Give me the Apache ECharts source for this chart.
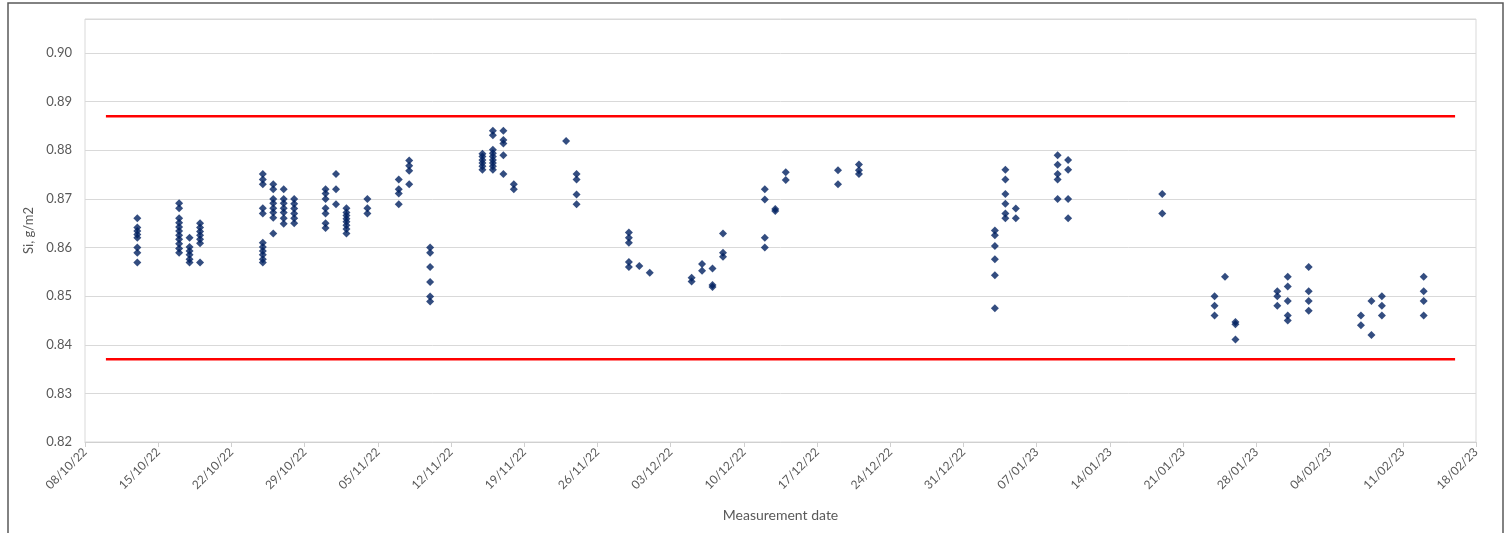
<!DOCTYPE html>
<html>
<head>
<meta charset="utf-8">
<script src="https://cdn.jsdelivr.net/npm/echarts@6/dist/echarts.min.js"></script>
<style>html,body{margin:0;padding:0;background:#fff}#c{width:1511px;height:533px}</style>
</head>
<body>
<div id="c"></div>
<script>
// ---- data ----
const startDate = '2022-10-08';
const endDate = '2023-02-18';
const dates = [
  '2022-10-13','2022-10-17','2022-10-18','2022-10-19','2022-10-25','2022-10-26','2022-10-27','2022-10-28',
  '2022-10-31','2022-11-01','2022-11-02','2022-11-04','2022-11-07','2022-11-08','2022-11-10','2022-11-15',
  '2022-11-16','2022-11-17','2022-11-18','2022-11-23','2022-11-24','2022-11-29','2022-11-30','2022-12-01',
  '2022-12-05','2022-12-06','2022-12-07','2022-12-08','2022-12-12','2022-12-13','2022-12-14','2022-12-19',
  '2022-12-21','2023-01-03','2023-01-04','2023-01-05','2023-01-09','2023-01-10','2023-01-19','2023-01-24',
  '2023-01-25','2023-01-26','2023-01-30','2023-01-31','2023-02-02','2023-02-07','2023-02-08','2023-02-09',
  '2023-02-13'
];
const siValues = [
  [0.866,0.8641,0.8634,0.8627,0.862,0.860,0.8589,0.8569],
  [0.8691,0.8681,0.866,0.8651,0.8642,0.8634,0.8625,0.8617,0.8608,0.8598,0.8589],
  [0.862,0.8601,0.8593,0.8585,0.8576,0.8569],
  [0.865,0.8641,0.8633,0.8625,0.8617,0.8609,0.8569],
  [0.8751,0.874,0.873,0.8681,0.867,0.861,0.8601,0.8593,0.8585,0.8576,0.8569],
  [0.873,0.872,0.870,0.8691,0.8681,0.8672,0.8661,0.8629],
  [0.872,0.870,0.8691,0.8681,0.8672,0.866,0.8649],
  [0.870,0.869,0.868,0.867,0.866,0.865],
  [0.872,0.8711,0.870,0.8681,0.867,0.865,0.864],
  [0.8751,0.872,0.8689],
  [0.8681,0.8672,0.8666,0.8659,0.8653,0.8646,0.8638,0.8629],
  [0.870,0.8681,0.867],
  [0.874,0.872,0.8711,0.8689],
  [0.8779,0.8768,0.8758,0.873],
  [0.860,0.8589,0.856,0.8529,0.8499,0.8489],
  [0.8793,0.8787,0.878,0.8774,0.8767,0.876],
  [0.884,0.8831,0.8801,0.8794,0.8787,0.878,0.8774,0.8767,0.876],
  [0.884,0.8821,0.8814,0.879,0.8751],
  [0.873,0.872],
  [0.8819],
  [0.8751,0.874,0.8709,0.8689],
  [0.8631,0.862,0.861,0.857,0.856],
  [0.8562],
  [0.8548],
  [0.8538,0.853],
  [0.8566,0.8552],
  [0.8557,0.8523,0.8519],
  [0.8629,0.8589,0.8581],
  [0.872,0.8699,0.862,0.860],
  [0.8679,0.8675],
  [0.8755,0.8739],
  [0.8759,0.873],
  [0.8771,0.8759,0.8751],
  [0.8635,0.8625,0.8603,0.8576,0.8543,0.8475],
  [0.876,0.874,0.871,0.869,0.867,0.866],
  [0.868,0.866],
  [0.879,0.877,0.8751,0.874,0.870],
  [0.878,0.876,0.870,0.866],
  [0.871,0.867],
  [0.850,0.848,0.846],
  [0.854],
  [0.8447,0.8442,0.8411],
  [0.851,0.850,0.848],
  [0.854,0.852,0.849,0.846,0.845],
  [0.856,0.851,0.849,0.847],
  [0.846,0.844],
  [0.849,0.842],
  [0.850,0.848,0.846],
  [0.854,0.851,0.849,0.846]
];
const limitDates = ['2022-10-10','2023-02-16'];
const upperLimit = 0.887;
const lowerLimit = 0.837;
const yMin = 0.82, yMax = 0.907, yStep = 0.01;
const xStepDays = 7;

// ---- helpers ----
const DAY = 86400000;
function toDay(s){const p=s.split('-').map(Number);return Math.round((Date.UTC(p[0],p[1]-1,p[2])-Date.UTC(2022,9,8))/DAY);}
function fmtDay(d){const t=new Date(Date.UTC(2022,9,8)+d*DAY);const dd=String(t.getUTCDate()).padStart(2,'0');const mm=String(t.getUTCMonth()+1).padStart(2,'0');const yy=String(t.getUTCFullYear()).slice(2);return dd+'/'+mm+'/'+yy;}

const points=[];
dates.forEach((d,i)=>siValues[i].forEach(v=>points.push([toDay(d),v])));

const FONT='Lato';
const chart=echarts.init(document.getElementById('c'),null,{renderer:'canvas'});
chart.setOption({
  animation:false,
  backgroundColor:'#ffffff',
  grid:{left:85,right:35,top:19,bottom:91,show:true,borderColor:'#d9d9d9',borderWidth:1},
  graphic:[{type:'rect',shape:{x:8,y:3,width:1495,height:560},style:{fill:'none',stroke:'#595959',lineWidth:1.5},silent:true}],
  xAxis:{
    type:'value',min:toDay(startDate),max:toDay(endDate),interval:xStepDays,
    name:'Measurement date',nameLocation:'middle',nameGap:66,
    nameTextStyle:{color:'#595959',fontSize:14,fontFamily:FONT},
    axisLine:{show:true,lineStyle:{color:'#d0d0d0'}},
    axisTick:{show:true,length:5,lineStyle:{color:'#d0d0d0'}},
    axisLabel:{rotate:45,color:'#595959',fontSize:12,fontFamily:FONT,margin:8,formatter:fmtDay},
    splitLine:{show:false}
  },
  yAxis:{
    type:'value',min:yMin,max:yMax,interval:yStep,
    name:'Si, g/m2',nameLocation:'middle',nameGap:36,nameRotate:90,
    nameTextStyle:{color:'#595959',fontSize:13,fontFamily:FONT},
    axisLine:{show:false},axisTick:{show:false},
    axisLabel:{color:'#595959',fontSize:13,fontFamily:FONT,margin:13,showMaxLabel:false,formatter:v=>v.toFixed(2)},
    splitLine:{show:true,lineStyle:{color:'#d9d9d9',width:1}}
  },
  series:[
    {type:'line',data:limitDates.map(d=>[toDay(d),upperLimit]),symbol:'none',lineStyle:{color:'#ff0000',width:2.5},z:1},
    {type:'line',data:limitDates.map(d=>[toDay(d),lowerLimit]),symbol:'none',lineStyle:{color:'#ff0000',width:2.5},z:1},
    {type:'scatter',data:points,symbol:'diamond',symbolSize:8,itemStyle:{color:'#002060'},z:3}
  ]
});
</script>
</body>
</html>
